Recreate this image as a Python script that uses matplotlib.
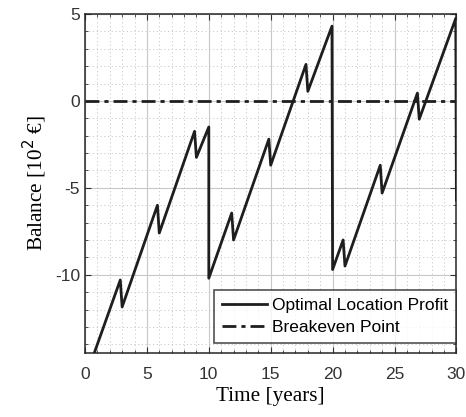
import numpy as np
import matplotlib.pyplot as plt
from matplotlib.ticker import MultipleLocator

# balance curve vertices (time in years, balance in 10^2 EUR)
time_years = [0, 2.85, 3.0, 5.85, 6.0, 8.85, 9.0, 10.0, 10.0, 11.85, 12.0,
              14.85, 15.0, 17.85, 18.0, 19.95, 20.0, 20.85, 21.0, 23.85, 24.0,
              26.85, 27.0, 29.95, 30.0]
balance = [-16.0, -10.3, -11.85, -6.0, -7.6, -1.75, -3.25, -1.5, -10.2, -6.45, -8.0,
           -2.2, -3.7, 2.1, 0.55, 4.3, -9.7, -8.0, -9.5, -3.7, -5.3,
           0.45, -1.05, 4.75, -5.7]
breakeven_x = [0, 30]
breakeven_y = [0, 0]

xticks = [0, 5, 10, 15, 20, 25, 30]
yticks = [-10, -5, 0, 5]

plt.rcParams['font.family'] = ['Liberation Sans', 'DejaVu Sans']
plt.rcParams['axes.unicode_minus'] = False

fig = plt.figure(figsize=(4.66, 4.17), dpi=100)
ax = fig.add_axes([0.1824, 0.1535, 0.797, 0.813])

ax.plot(time_years, balance, color='#1e1e1e', linewidth=2.0,
        label='Optimal Location Profit', zorder=3)
ax.plot(breakeven_x, breakeven_y, color='#1e1e1e', linewidth=2.0,
        linestyle=(0, (5, 1.8, 1.5, 1.8)), label='Breakeven Point', zorder=3)

ax.set_xlim(0, 30)
ax.set_ylim(-14.5, 5)
ax.set_xticks(xticks)
ax.set_yticks(yticks)
ax.xaxis.set_minor_locator(MultipleLocator(1))
ax.yaxis.set_minor_locator(MultipleLocator(1))

ax.grid(which='major', color='#c8c8c8', linewidth=0.8, linestyle='-')
ax.grid(which='minor', color='#c4c4c4', linewidth=0.6, linestyle=(0, (1.5, 3)))
ax.set_axisbelow(True)

ax.tick_params(which='both', direction='in', top=True, right=True,
               labelsize=12.5, colors='#333333', length=4)
ax.tick_params(which='minor', length=2)
ax.tick_params(axis='x', pad=10)
for s in ax.spines.values():
    s.set_color('#262626')
    s.set_linewidth(1.1)

ax.set_xlabel('Time [years]', family=['Liberation Serif', 'DejaVu Serif'], fontsize=15.3)
ax.set_ylabel('Balance [10$^2$ €]', family=['Liberation Serif', 'DejaVu Serif'], fontsize=15.3)

leg = ax.legend(loc='lower right', bbox_to_anchor=(1.0, 0.03), fontsize=12.5,
                handlelength=2.6, frameon=True, fancybox=False, borderaxespad=0,
                borderpad=0.45, labelspacing=0.4, handletextpad=0.3)
leg.get_frame().set_edgecolor('#262626')
leg.get_frame().set_linewidth(1.2)

fig.savefig('out.png', dpi=100)
